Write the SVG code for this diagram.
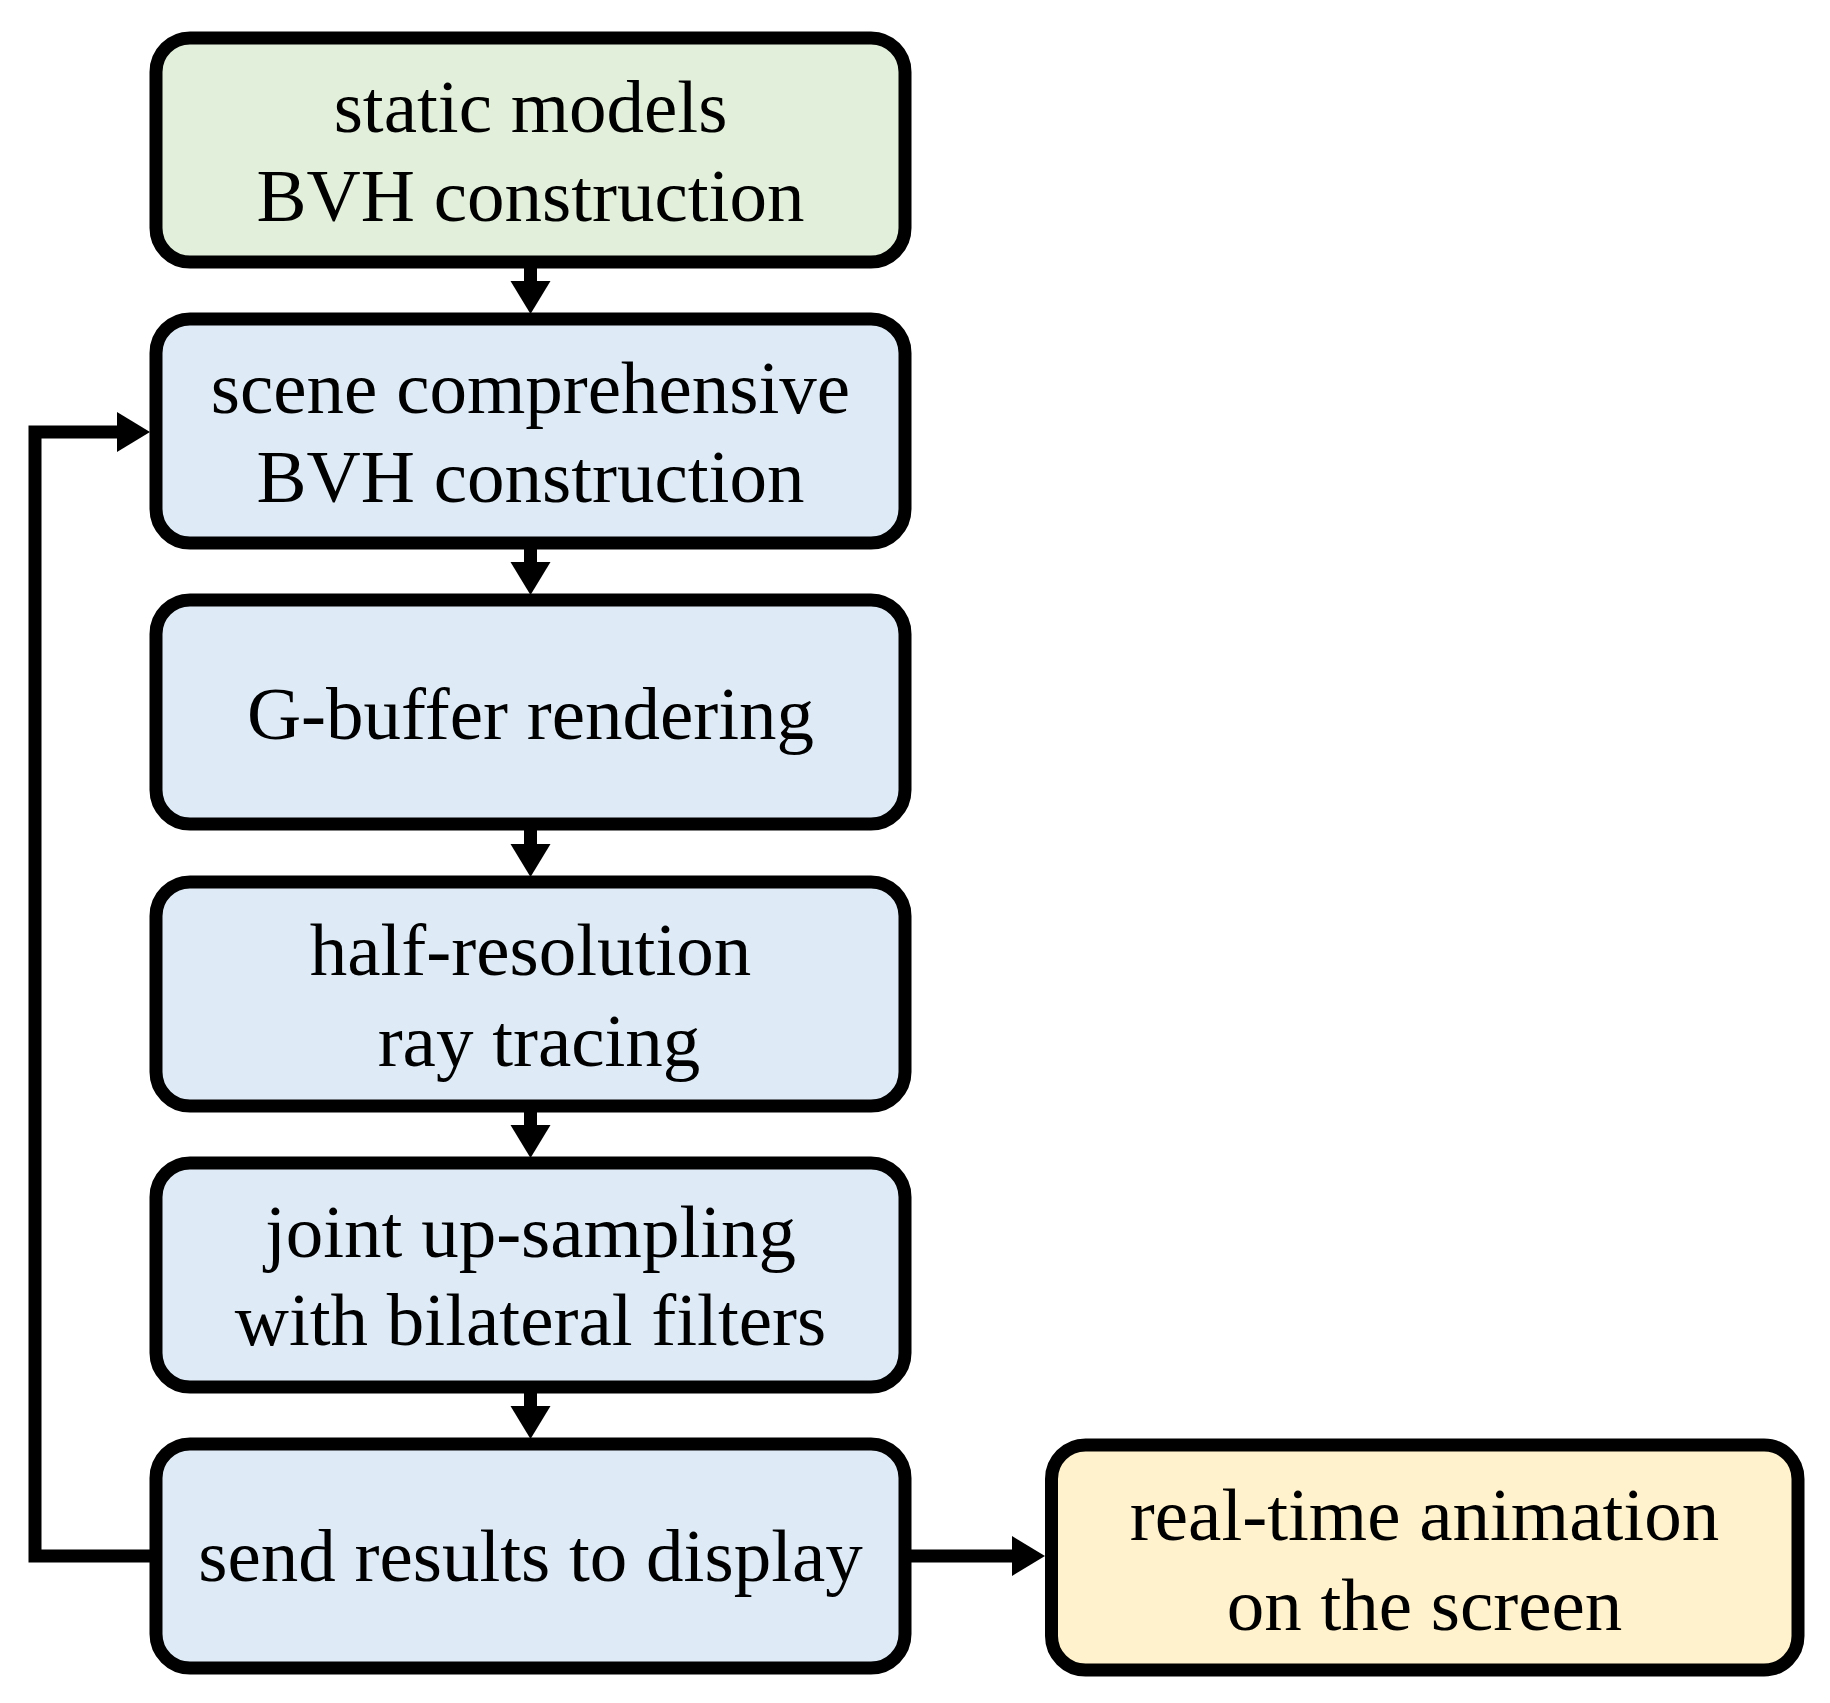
<svg xmlns="http://www.w3.org/2000/svg" width="1830" height="1703" viewBox="0 0 1830 1703">
<style>
.box{stroke:#000;stroke-width:13;}
.g{fill:#E2EFDA;}
.b{fill:#DEEBF7;}
.y{fill:#FFF2CC;}
.t{font-family:"Liberation Serif","Times New Roman",serif;font-size:75px;fill:#000;text-anchor:middle;}
.c{fill:none;stroke:#000;stroke-width:13;stroke-linejoin:miter;}
</style>
<defs>
<marker id="ah" markerUnits="userSpaceOnUse" markerWidth="36" markerHeight="44" viewBox="0 -22 36 44" refX="0" refY="0" orient="auto">
<path d="M0,-20 L33,0 L0,20 Z" fill="#000"/>
</marker>
</defs>
<rect width="1830" height="1703" fill="#fff"/>
<g id="connectors">
<path class="c" d="M530.5,268 V281" marker-end="url(#ah)"/>
<path class="c" d="M530.5,549 V562" marker-end="url(#ah)"/>
<path class="c" d="M530.5,830 V844" marker-end="url(#ah)"/>
<path class="c" d="M530.5,1112 V1125" marker-end="url(#ah)"/>
<path class="c" d="M530.5,1393 V1406" marker-end="url(#ah)"/>
<path class="c" d="M150,1556 H35 V432 H117" marker-end="url(#ah)"/>
<path class="c" d="M911,1556 H1012" marker-end="url(#ah)"/>
</g>
<g id="n1">
<rect class="box g" x="156" y="38" width="749" height="224" rx="34"/>
<text class="t" x="530.5" y="132">static models</text>
<text class="t" x="530.5" y="221">BVH construction</text>
</g>
<g id="n2">
<rect class="box b" x="156" y="319" width="749" height="224" rx="34"/>
<text class="t" x="530.5" y="413">scene comprehensive</text>
<text class="t" x="530.5" y="502">BVH construction</text>
</g>
<g id="n3">
<rect class="box b" x="156" y="600" width="749" height="224" rx="34"/>
<text class="t" x="530.5" y="739">G-buffer rendering</text>
</g>
<g id="n4">
<rect class="box b" x="156" y="882" width="749" height="224" rx="34"/>
<text class="t" x="530.5" y="975">half-resolution</text>
<text class="t" x="539" y="1066">ray tracing</text>
</g>
<g id="n5">
<rect class="box b" x="156" y="1163" width="749" height="224" rx="34"/>
<text class="t" x="530.5" y="1257">joint up-sampling</text>
<text class="t" x="530.5" y="1345">with bilateral filters</text>
</g>
<g id="n6">
<rect class="box b" x="156" y="1444" width="749" height="224" rx="34"/>
<text class="t" x="530.5" y="1581">send results to display</text>
</g>
<g id="n7">
<rect class="box y" x="1051.5" y="1445" width="746.5" height="225" rx="34"/>
<text class="t" x="1424.5" y="1540">real-time animation</text>
<text class="t" x="1424.5" y="1630">on the screen</text>
</g>
</svg>
